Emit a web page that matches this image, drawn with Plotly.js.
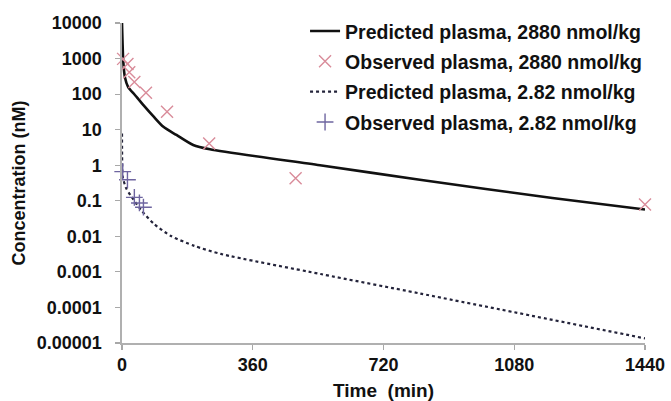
<!DOCTYPE html>
<html>
<head>
<meta charset="utf-8">
<script src="https://cdn.plot.ly/plotly-3.0.1.min.js"></script>
<style>html,body{margin:0;padding:0;background:#fff;}#chart{width:671px;height:401px;}</style>
</head>
<body>
<div id="chart"></div>
<script>
// Time points (min) and concentrations (nM)
var predTime2880 = [0, 3.6, 8, 17, 36, 59, 86, 114, 150, 196, 242, 545, 820, 1185, 1440];
var predConc2880 = [10000, 800, 300, 158, 93, 49, 24, 12, 7.1, 3.7, 2.8, 1.0, 0.39, 0.12, 0.057];

var obsTime2880 = [3, 15, 20, 34, 66, 124, 240, 478, 1440];
var obsConc2880 = [980, 700, 415, 220, 110, 32, 4.1, 0.43, 0.078];

var predTime282 = [0, 0.3, 2, 11, 25, 52, 89, 135, 199, 272, 547, 822, 1440];
var predConc282 = [7.8, 1.9, 0.48, 0.23, 0.135, 0.056, 0.022, 0.0102, 0.0054, 0.0032, 0.00087, 0.000245, 0.0000135];

var obsTime282 = [2, 15, 34, 48, 59];
var obsConc282 = [0.66, 0.39, 0.125, 0.087, 0.066];

var seriesNames = [
  'Predicted plasma, 2880 nmol/kg',
  'Observed plasma, 2880 nmol/kg',
  'Predicted plasma, 2.82 nmol/kg',
  'Observed plasma, 2.82 nmol/kg'
];

var xTickVals = [0, 360, 720, 1080, 1440];
var xTickText = ['0', '360', '720', '1080', '1440'];
var yTickVals = [0.00001, 0.0001, 0.001, 0.01, 0.1, 1, 10, 100, 1000, 10000];
var yTickText = ['0.00001', '0.0001', '0.001', '0.01', '0.1', '1', '10', '100', '1000', '10000'];

var FONT = 'Liberation Sans, Arial, Helvetica, sans-serif';

var traces = [
  {x: predTime2880, y: predConc2880, name: seriesNames[0], mode: 'lines', legendgroup: 'a',
   line: {color: '#111111', width: 2.6, shape: 'spline', smoothing: 0.7}},
  {x: obsTime2880, y: obsConc2880, name: seriesNames[1], mode: 'markers', legendgroup: 'b', cliponaxis: false,
   marker: {symbol: 'x-thin-open', size: 12, color: '#d98c9a', line: {color: '#d98c9a', width: 1.4}}},
  {x: predTime282, y: predConc282, name: seriesNames[2], mode: 'lines', legendgroup: 'c',
   line: {color: '#23233a', width: 2.2, dash: 'dot', shape: 'spline', smoothing: 0.7}},
  {x: obsTime282, y: obsConc282, name: seriesNames[3], mode: 'markers', legendgroup: 'd', cliponaxis: false,
   marker: {symbol: 'cross-thin-open', size: 12, color: '#6e65a0', line: {color: '#6e65a0', width: 1.4}}}
];

var layout = {
  width: 671, height: 401,
  margin: {l: 122, r: 26, t: 20, b: 58, pad: 0},
  paper_bgcolor: '#ffffff', plot_bgcolor: '#ffffff',
  font: {family: FONT, color: '#000000'},
  showlegend: true,
  legend: {
    x: 0.35, y: 1.035, xanchor: 'left', yanchor: 'top',
    bgcolor: 'rgba(0,0,0,0)', borderwidth: 0,
    font: {family: FONT, size: 19.5, color: '#111111', weight: 'bold'},
    tracegroupgap: 2, traceorder: 'grouped'
  },
  xaxis: {
    range: [0, 1440], type: 'linear',
    tickvals: xTickVals, ticktext: xTickText,
    ticks: 'outside', ticklen: 5, tickwidth: 1.2, tickcolor: '#a8a8a8',
    showline: true, linecolor: '#b0b0b0', linewidth: 1.6,
    showgrid: false, zeroline: false,
    tickfont: {family: FONT, size: 18, color: '#111111', weight: 'bold'},
    title: {text: 'Time  (min)', standoff: 10, font: {family: FONT, size: 19, color: '#111111', weight: 'bold'}}
  },
  yaxis: {
    type: 'log', range: [-5, 4],
    tickvals: yTickVals, ticktext: yTickText,
    ticks: 'outside', ticklen: 5, tickwidth: 1.2, tickcolor: '#a8a8a8',
    showline: true, linecolor: '#b0b0b0', linewidth: 1.6,
    showgrid: false, zeroline: false,
    ticklabelstandoff: 10,
    tickfont: {family: FONT, size: 18, color: '#111111', weight: 'bold'},
    title: {text: 'Concentration (nM)', standoff: 6, font: {family: FONT, size: 18, color: '#111111', weight: 'bold'}}
  }
};

Plotly.newPlot('chart', traces, layout, {displayModeBar: false, staticPlot: true});
</script>
</body>
</html>
